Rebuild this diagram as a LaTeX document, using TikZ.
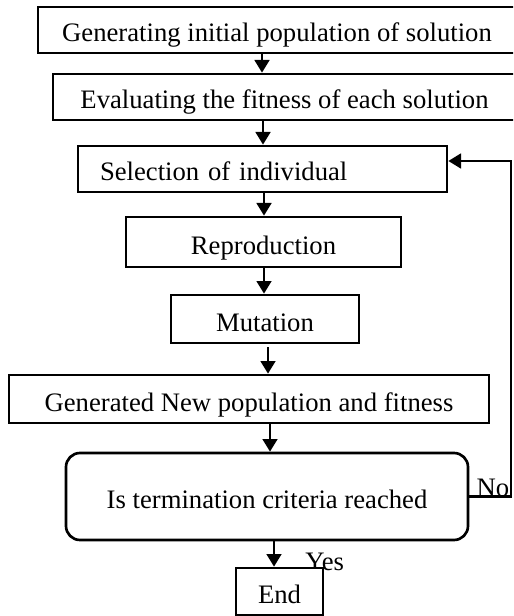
\documentclass[tikz,border=0pt]{standalone}
\usepackage{fontspec}
\setmainfont{Liberation Serif}
\usetikzlibrary{arrows.meta}

\begin{document}
\begin{tikzpicture}[x=0.75pt,y=-0.75pt,
	box/.style={draw, line width=2pt, fill=white, inner sep=0pt, text height=18pt, text depth=0pt, font=\fontsize{20}{24}\selectfont},
	arr/.style={line width=2pt, -{Triangle[width=11pt,length=9.5pt]}},
	lbl/.style={inner sep=0pt, anchor=base west, font=\fontsize{20}{24}\selectfont}]
			\useasboundingbox (0,0) rectangle (513,616);
			\clip (0,0) rectangle (513,616);
			\coordinate (fb) at (511,0);
			\node[box, minimum width=358.5pt, minimum height=34.5pt] (init) at (277,30) {Generating initial population of solution};
			\node[box, minimum width=347.25pt, minimum height=34.5pt] (eval) at (284.5,97) {Evaluating the fitness of each solution};
			\node[box, text width=243.75pt, inner xsep=16.5pt, align=left, minimum height=34.5pt] (sel) at (262.5,169) {Selection of individual};
			\node[box, minimum width=206.25pt, minimum height=37.5pt] (repr) at (263.5,242) {Reproduction};
			\node[box, minimum width=141pt, minimum height=36pt] (mut) at (265,319) {Mutation};
			\node[box, minimum width=360pt, minimum height=36pt] (newpop) at (249,399) {Generated New population and fitness};
			\node[box, rounded corners=10.5pt, minimum width=301.5pt, minimum height=65.25pt] (crit) at (267,496.5) {Is termination criteria reached};
			\node[lbl] (yes) at ([shift={(38,29)}]crit.south) {Yes};
			\node[box, minimum width=65.25pt, minimum height=35.25pt] (end) at (279.5,591.5) {End};
			\node[lbl] (no) at ([shift={(7,0)}]crit.east) {No};
			\draw[arr] ([shift={(-15,0)}]init.south) -- ([shift={(-22.5,0)}]eval.north);
			\draw[arr] ([shift={(-21.5,0)}]eval.south) -- ([shift={(0.5,0)}]sel.north);
			\draw[arr] ([shift={(1.5,0)}]sel.south) -- ([shift={(0.5,0)}]repr.north);
			\draw[arr] ([shift={(0.5,0)}]repr.south) -- ([shift={(-1,0)}]mut.north);
			\draw[arr] ([shift={(3,3)}]mut.south) -- ([shift={(19,0)}]newpop.north);
			\draw[arr] ([shift={(21,0)}]newpop.south) -- ([shift={(3,0)}]crit.north);
			\draw[arr] ([shift={(7,0)}]crit.south) -- ([shift={(-5.5,0)}]end.north);
			\draw[arr] (crit.east) -- (crit.east -| fb) |- ([shift={(0,-8)}]sel.east);
\end{tikzpicture}
\end{document}
